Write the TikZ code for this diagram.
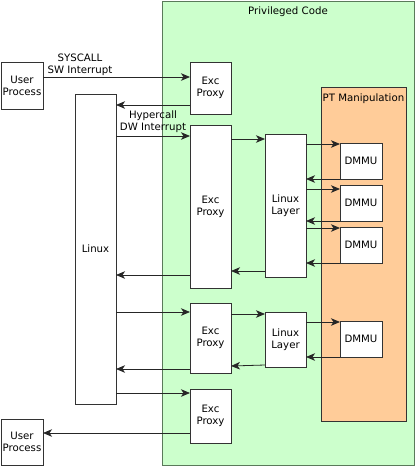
\documentclass[tikz,border=0pt]{standalone}
\usepackage{fontspec}
\setmainfont{DejaVu Sans}
\usetikzlibrary{arrows.meta}
\definecolor{grn}{HTML}{CCFFCC}
\definecolor{grnb}{HTML}{5A7A5A}
\definecolor{org}{HTML}{FFCC99}
\definecolor{edge}{HTML}{333333}
\begin{document}
\begin{tikzpicture}[x=1pt,y=-1pt,
  box/.style={draw=edge,fill=white,line width=0.8pt,inner sep=0pt,outer sep=0pt,anchor=north west,align=center,font=\fontsize{10.2}{12}\selectfont},
  conn/.style={draw=black!85,line width=0.8pt,-{Stealth[length=9pt,width=7.5pt,inset=2.5pt]}},
  lbl/.style={font=\fontsize{10.2}{12}\selectfont,align=center,inner sep=0pt}]
\useasboundingbox (0,0) rectangle (415,467);
\node[box,draw=grnb,fill=grn,minimum width=252pt,minimum height=464pt] (priv) at (162,1) {};
\node[lbl] (privlbl) at (288,12) {Privileged Code};
\node[box,draw=edge,fill=org,minimum width=85pt,minimum height=334pt] (pt) at (321,87) {};
\node[lbl] (ptlbl) at (363.5,99) {PT Manipulation};
\node[box,minimum width=42pt,minimum height=47pt] (up1) at (1,62) {User\\Process};
\node[box,minimum width=42pt,minimum height=46pt] (up2) at (1,419) {User\\Process};
\node[box,minimum width=41pt,minimum height=310pt] (linux) at (75,94) {Linux};
\node[box,minimum width=41pt,minimum height=52pt] (ep1) at (190,62) {Exc\\Proxy};
\node[box,minimum width=41pt,minimum height=163pt] (ep2) at (190,125) {Exc\\Proxy};
\node[box,minimum width=41pt,minimum height=70pt] (ep3) at (190,303) {Exc\\Proxy};
\node[box,minimum width=41pt,minimum height=54pt] (ep4) at (190,389) {Exc\\Proxy};
\node[box,minimum width=41pt,minimum height=143pt] (ll1) at (265,134) {Linux\\Layer};
\node[box,minimum width=41pt,minimum height=55pt] (ll2) at (265,312) {Linux\\Layer};
\node[box,minimum width=42pt,minimum height=36pt] (d1) at (340,143) {DMMU};
\node[box,minimum width=42pt,minimum height=36pt] (d2) at (340,185) {DMMU};
\node[box,minimum width=42pt,minimum height=36pt] (d3) at (340,227) {DMMU};
\node[box,minimum width=42pt,minimum height=36pt] (d4) at (340,321) {DMMU};
\node[lbl] (sys) at (80,65) {SYSCALL\\SW Interrupt};
\node[lbl] (hyp) at (153,122) {Hypercall\\DW Interrupt};
\draw[conn] (up1.east |- 0,77) -- (ep1.west |- 0,77);
\draw[conn] (ep1.west |- 0,105) -- (linux.east |- 0,105);
\draw[conn] (linux.east |- 0,136) -- (ep2.west |- 0,136);
\draw[conn] (ep2.east |- 0,139) -- (ll1.west |- 0,139);
\draw[conn] (ll1.east |- 0,144) -- (d1.west |- 0,144);
\draw[conn] (d1.south west) -- (ll1.east |- d1.south);
\draw[conn] (ll1.east |- 0,189) -- (d2.west |- 0,189);
\draw[conn] (d2.south west) -- (ll1.east |- d2.south);
\draw[conn] (ll1.east |- 0,228) -- (d3.west |- 0,228);
\draw[conn] (d3.south west) -- (ll1.east |- d3.south);
\draw[conn] (ll1.west |- 0,271) -- (ep2.east |- 0,271);
\draw[conn] (ep2.west |- 0,275) -- (linux.east |- 0,275);
\draw[conn] (linux.east |- 0,312) -- (ep3.west |- 0,312);
\draw[conn] (ep3.east |- 0,314) -- (ll2.west |- 0,314);
\draw[conn] (ll2.east |- 0,322) -- (d4.west |- 0,322);
\draw[conn] (d4.south west) -- (ll2.east |- d4.south);
\draw[conn] (ll2.west |- 0,365) -- (ep3.east |- 0,366);
\draw[conn] (ep3.west |- 0,369) -- (linux.east |- 0,369);
\draw[conn] (linux.east |- 0,393) -- (ep4.west |- 0,393);
\draw[conn] (ep4.west |- 0,433) -- (up2.east |- 0,433);
\end{tikzpicture}
\end{document}
